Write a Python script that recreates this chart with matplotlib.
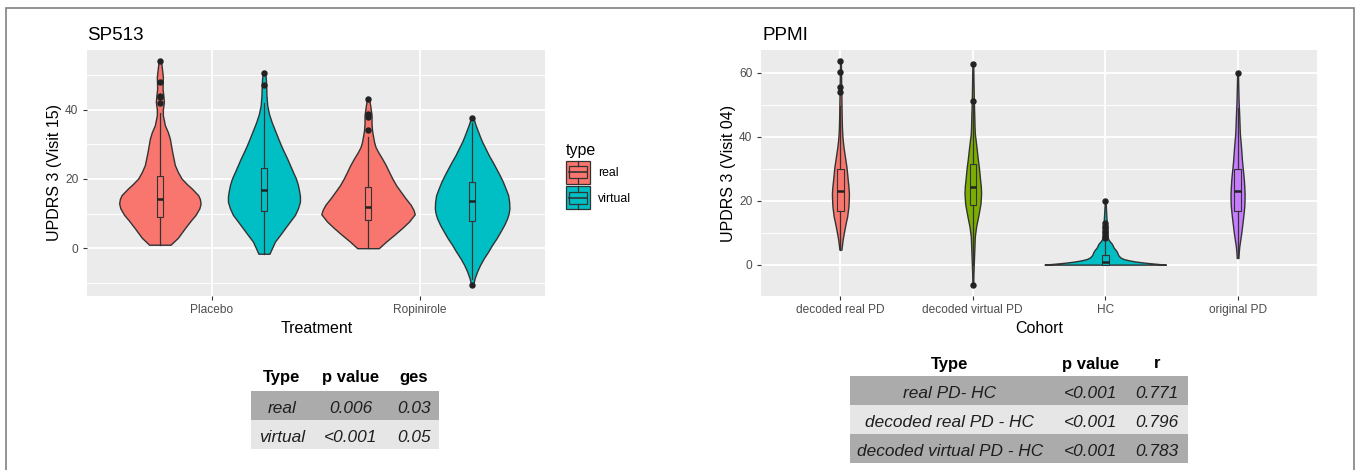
import numpy as np
import matplotlib
matplotlib.use("Agg")
import matplotlib.pyplot as plt
from matplotlib.patches import Rectangle, Patch
from matplotlib.lines import Line2D
from matplotlib.legend_handler import HandlerBase

plt.rcParams['font.family'] = ['Liberation Sans', 'DejaVu Sans']

# ---------------- data ----------------
treatments = ['Placebo', 'Ropinirole']
types = ['real', 'virtual']
type_colors = ['#F8766D', '#00BFC4']

# violin density profiles (value, relative density)
sp_real_placebo_y = [1, 3, 5.75, 8, 9.6, 11.5, 12.9, 14.2, 15.3, 17.2, 18.5, 20.1, 22, 24, 27.8, 31.6,
                     33.5, 35.5, 38.4, 40, 42.2, 44, 46, 49.5, 52, 54]
sp_real_placebo_d = [10.7, 18, 25, 31, 35.7, 39.5, 40.7, 40, 38.3, 32, 27, 21.7, 18, 15, 12.3, 10,
                     8, 5, 3, 3, 4, 3.5, 2.7, 3, 2, 1.2]
sp_virtual_placebo_y = [-1.6, 0, 1.9, 3.8, 5.75, 7.7, 9.6, 11.5, 13.4, 15, 16.3, 18.2, 20.1, 22, 24, 26,
                        27.8, 29.7, 31.6, 34, 36.4, 38.8, 41.2, 44, 46.4, 48.5, 50.6]
sp_virtual_placebo_d = [5.5, 8, 11, 16, 21, 26, 31, 34, 36, 36, 35.3, 34, 32, 29, 26, 23,
                        20, 17, 14.3, 11, 7.7, 5, 3.3, 2.5, 2.3, 2, 1.2]
sp_real_ropinirole_y = [0, 1.9, 3.8, 5.8, 7.7, 9.8, 11, 12.5, 14.4, 16.3, 18.2, 20.1, 22, 24, 25.9,
                        27.8, 29.2, 30.7, 32.3, 34, 36, 38.4, 40.5, 43]
sp_real_ropinirole_d = [10.8, 18, 26, 34, 41, 46.7, 45.5, 42.7, 37.5, 32.7, 28, 24.3, 21, 17.7, 14,
                        10, 7.5, 6, 5, 4, 3.5, 3.5, 2.5, 1.2]
sp_virtual_ropinirole_y = [-10.6, -8.7, -6.7, -4.8, -2.9, -1, 0.95, 2.9, 4.8, 6.7, 8.6, 10, 11.5, 13.4,
                           15.3, 17.2, 19.2, 21.1, 23, 24.9, 26.8, 28.8, 30.7, 32.1, 33.6, 35.5, 37.6]
sp_virtual_ropinirole_d = [1, 2.5, 5, 8, 11.7, 16, 20, 24.5, 28.3, 32, 35, 36.5, 37.3, 37,
                           36, 33.5, 30.7, 27.5, 24, 20.5, 16.7, 13.3, 10, 8, 6, 3.5, 1.2]

# box statistics: order real-Placebo, virtual-Placebo, real-Ropinirole, virtual-Ropinirole
sp_q1 = [8.9, 10.7, 8.1, 7.9]
sp_med = [14.1, 16.7, 12.0, 13.6]
sp_q3 = [20.9, 23.2, 17.7, 19.2]
sp_wlo = [1.0, -1.6, 0.0, -9.0]
sp_whi = [38.9, 41.8, 32.0, 36.0]
sp_fliers = [[41.9, 43.6, 44.0, 48.1, 53.9], [47.0, 50.6], [34.0, 37.9, 38.6, 43.0], [-10.6, 37.6]]

cohorts = ['decoded real PD', 'decoded virtual PD', 'HC', 'original PD']
cohort_colors = ['#F8766D', '#7CAE00', '#00BFC4', '#C77CFF']

pp_dreal_y = [4.7, 6, 7.8, 10.9, 13, 15, 18.2, 20, 22.3, 24.5, 26.5, 28.5, 30.6, 32.7, 34.8, 36.9,
              38.9, 41, 43, 47, 51.4, 55, 60, 63.6]
pp_dreal_d = [1, 1.5, 2.2, 4, 5.3, 6.7, 8, 8.3, 8.5, 8, 7.3, 6.7, 6, 5, 4, 3,
              2.3, 1.8, 1.5, 1.2, 1, 0.8, 0.6, 0.4]
pp_dvirt_y = [-6.4, -3, 0.5, 4.7, 8.8, 11.9, 15, 17, 19.2, 22.3, 24.5, 26.5, 28.5, 30.6, 33, 35.8,
              38.5, 41, 43.5, 46.2, 51.4, 57, 62.8]
pp_dvirt_d = [0.4, 0.6, 1, 1.5, 2, 3.3, 5.3, 6.5, 7.7, 8.3, 8, 7.3, 6.7, 6, 5, 4,
              3, 2, 1.7, 1.5, 1, 0.7, 0.4]
pp_hc_y = [0, 0.3, 0.6, 1.0, 1.4, 1.8, 2.3, 3, 3.8, 4.6, 5.3, 6.0, 6.6, 7.3, 8, 9, 10.5, 12, 13.5,
           16, 18, 20]
pp_hc_d = [60.7, 50, 40, 30, 23, 18, 15, 13, 12, 10.5, 8.5, 7.5, 6.5, 4.5, 3, 2.3, 2.2, 2, 1.5,
           1, 0.7, 0.4]
pp_orig_y = [2.1, 4, 5.7, 7.8, 9.9, 12, 14, 16, 18.2, 20.2, 22.3, 24.4, 26.5, 28.5, 30.6, 33, 35.8,
             38.5, 41, 43.5, 46.2, 51.4, 55.5, 60]
pp_orig_d = [0.8, 1.2, 1.7, 2.7, 3.7, 4.5, 5.3, 6, 6.7, 7, 7, 6.7, 6.3, 5.7, 5, 4.3, 3.7,
             3, 2.3, 2, 1.7, 1, 0.7, 0.4]

pp_q1 = [16.7, 18.7, 0.0, 16.9]
pp_med = [23.0, 24.2, 0.7, 23.0]
pp_q3 = [29.9, 31.4, 2.9, 29.9]
pp_wlo = [4.7, 0.0, 0.0, 2.1]
pp_whi = [49.5, 50.0, 7.2, 49.0]
pp_fliers = [[53.9, 55.5, 60.1, 63.6], [-6.4, 51.2, 62.8],
             [8.2, 9.0, 9.8, 10.6, 11.4, 12.2, 13.0, 20.0], [59.9]]

left_cols = ['Type', 'p value', 'ges']
left_rows = [['real', '0.006', '0.03'], ['virtual', '<0.001', '0.05']]
right_cols = ['Type', 'p value', 'r']
right_rows = [['real PD- HC', '<0.001', '0.771'],
              ['decoded real PD - HC', '<0.001', '0.796'],
              ['decoded virtual PD - HC', '<0.001', '0.783']]

# ---------------- layout helpers ----------------
W, H = 1358, 470
fig = plt.figure(figsize=(W / 100, H / 100), dpi=100)
fig.patch.set_facecolor('white')


def fx(px):
    return px / W


def fy(py):
    return 1 - py / H


EDGE = '#333333'
PANEL = '#EBEBEB'


def style_ax(ax, xlim, ylim, major, minor, ncat):
    ax.set_facecolor(PANEL)
    for s in ax.spines.values():
        s.set_visible(False)
    ax.set_xlim(xlim)
    ax.set_ylim(ylim)
    ax.set_xticks(range(ncat))
    ax.set_yticks(major)
    ax.set_yticks(minor, minor=True)
    ax.set_axisbelow(True)
    ax.grid(True, which='major', color='white', lw=1.3)
    ax.grid(True, which='minor', axis='y', color='white', lw=0.65)
    ax.tick_params(which='major', length=2.6, width=0.8, color=EDGE,
                   labelcolor='#4D4D4D', labelsize=8.6)
    ax.tick_params(axis='x', pad=3.3)
    ax.tick_params(axis='y', pad=3.6)
    ax.tick_params(which='minor', length=0)


def draw_violins(ax, profiles, positions, colors, px_per_unit):
    stats = []
    widths = []
    for y, d in profiles:
        y = np.asarray(y, float)
        d = np.asarray(d, float)
        stats.append(dict(coords=y, vals=d, mean=float(np.mean(y)), median=float(np.median(y)),
                          min=float(y.min()), max=float(y.max())))
        widths.append(2 * d.max() / px_per_unit)
    parts = ax.violin(stats, positions=positions, widths=widths,
                      showmeans=False, showextrema=False, showmedians=False)
    for body, c in zip(parts['bodies'], colors):
        body.set_facecolor(c)
        body.set_edgecolor(EDGE)
        body.set_linewidth(1.0)
        body.set_alpha(1)
        body.set_zorder(2)


def draw_boxes(ax, q1, med, q3, wlo, whi, fliers, positions, colors, width):
    bstats = []
    for i in range(len(q1)):
        bstats.append(dict(q1=q1[i], med=med[i], q3=q3[i], whislo=wlo[i], whishi=whi[i],
                           fliers=fliers[i]))
    bp = ax.bxp(bstats, positions=positions, widths=width, patch_artist=True,
                showcaps=False, showfliers=True, manage_ticks=False, zorder=3,
                boxprops=dict(edgecolor=EDGE, linewidth=0.8),
                whiskerprops=dict(color=EDGE, linewidth=0.9),
                medianprops=dict(color='#222222', linewidth=1.8),
                flierprops=dict(marker='o', markersize=3.6, markerfacecolor='#222222',
                                markeredgecolor='#222222'))
    for b, c in zip(bp['boxes'], colors):
        b.set_facecolor(c)


# ---------------- left panel ----------------
axL = fig.add_axes([fx(87), fy(296), fx(458), (296 - 50) / H])
style_ax(axL, (-0.6, 1.6), (-13.8, 57.2), [0, 20, 40], [-10, 10, 30, 50], len(treatments))
axL.set_xticklabels(treatments)
L_ppu = 458 / 2.2
pos_L = []
col_L = []
for i in range(len(treatments)):
    for j in range(len(types)):
        pos_L.append(i + (-0.25 if j == 0 else 0.25))
        col_L.append(type_colors[j])
draw_violins(axL, [(sp_real_placebo_y, sp_real_placebo_d),
                   (sp_virtual_placebo_y, sp_virtual_placebo_d),
                   (sp_real_ropinirole_y, sp_real_ropinirole_d),
                   (sp_virtual_ropinirole_y, sp_virtual_ropinirole_d)], pos_L, col_L, L_ppu)
draw_boxes(axL, sp_q1, sp_med, sp_q3, sp_wlo, sp_whi, sp_fliers, pos_L, col_L, 0.029)

# ---------------- right panel ----------------
axR = fig.add_axes([fx(761), fy(296), fx(556), (296 - 50) / H])
style_ax(axR, (-0.6, 3.6), (-9.8, 67.1), [0, 20, 40, 60], [10, 30, 50], len(cohorts))
axR.set_xticklabels(cohorts)
R_ppu = 556 / 4.2
pos_R = list(range(len(cohorts)))
draw_violins(axR, [(pp_dreal_y, pp_dreal_d), (pp_dvirt_y, pp_dvirt_d),
                   (pp_hc_y, pp_hc_d), (pp_orig_y, pp_orig_d)], pos_R, cohort_colors, R_ppu)
draw_boxes(axR, pp_q1, pp_med, pp_q3, pp_wlo, pp_whi, pp_fliers, pos_R, cohort_colors, 0.05)

# ---------------- titles and axis labels ----------------
fig.text(fx(87), fy(40), 'SP513', fontsize=13.6, va='baseline', ha='left', color='black')
fig.text(fx(762), fy(40), 'PPMI', fontsize=13.6, va='baseline', ha='left', color='black')
fig.text(fx(316.5), fy(333.3), 'Treatment', fontsize=11.5, ha='center', va='baseline')
fig.text(fx(1039), fy(333.3), 'Cohort', fontsize=11.5, ha='center', va='baseline')
fig.text(fx(55), fy(173), 'UPDRS 3 (Visit 15)', fontsize=11.5, rotation=90, ha='center', va='center')
fig.text(fx(729), fy(173), 'UPDRS 3 (Visit 04)', fontsize=11.5, rotation=90, ha='center', va='center')


# ---------------- legend ----------------
class GGKeyHandler(HandlerBase):
    def create_artists(self, legend, orig_handle, xdescent, ydescent, width, height, fontsize, trans):
        fc = orig_handle.get_facecolor()
        x0, y0 = -xdescent, -ydescent
        h = height
        arts = [Rectangle((x0, y0), width, h, facecolor=fc, edgecolor=EDGE, lw=0.9, transform=trans),
                Rectangle((x0 + 0.125 * width, y0 + 0.25 * h), 0.75 * width, 0.5 * h,
                          facecolor=fc, edgecolor=EDGE, lw=0.9, transform=trans),
                Line2D([x0 + 0.125 * width, x0 + 0.875 * width], [y0 + 0.5 * h] * 2,
                       color=EDGE, lw=1.2, transform=trans),
                Line2D([x0 + 0.5 * width] * 2, [y0 + 0.75 * h, y0 + h],
                       color=EDGE, lw=0.9, transform=trans),
                Line2D([x0 + 0.5 * width] * 2, [y0, y0 + 0.25 * h],
                       color=EDGE, lw=0.9, transform=trans)]
        return arts


leg = fig.legend(handles=[Patch(facecolor=c) for c in type_colors], labels=types, title='type',
                 loc='upper left', bbox_to_anchor=(fx(566), fy(143)), frameon=False,
                 fontsize=8.8, title_fontsize=11.5, handlelength=1.95, handleheight=2.52,
                 handletextpad=0.65, labelspacing=0.22, borderpad=0, borderaxespad=0,
                 alignment='left', handler_map={Patch: GGKeyHandler()})


# ---------------- tables ----------------
DARK = '#ABABAB'
LIGHT = '#E6E6E6'
TXT = '#1E1E1E'


def draw_table(cols, rows, col_x, x0, x1, header_base, row_top, row_h, fills, fs=12.4):
    for c, cx in zip(cols, col_x):
        fig.text(fx(cx), fy(header_base), c, fontsize=fs - 0.4, fontweight='bold',
                 ha='center', va='baseline', color='black')
    for r, row in enumerate(rows):
        top = row_top + r * row_h
        fig.add_artist(Rectangle((fx(x0), fy(top + row_h)), fx(x1 - x0), row_h / H,
                                 transform=fig.transFigure, facecolor=fills[r], edgecolor='none'))
        for val, cx in zip(row, col_x):
            fig.text(fx(cx), fy(top + row_h / 2 + 7.8), val, fontsize=fs, style='italic',
                     ha='center', va='baseline', color=TXT)


draw_table(left_cols, left_rows, [281.7, 351, 414], 250.7, 439.3, 382, 390.7, 29.2, [DARK, LIGHT])
draw_table(right_cols, right_rows, [950, 1091, 1157], 850, 1188.3, 368.5, 375.7, 29.2,
           [DARK, LIGHT, DARK])

# ---------------- outer frame ----------------
fig.add_artist(Rectangle((fx(6), fy(480)), fx(1348), (480 - 8) / H, transform=fig.transFigure,
                         fill=False, edgecolor='#808080', lw=1.2, clip_on=False))

fig.savefig('out.png', dpi=100, facecolor='white')
